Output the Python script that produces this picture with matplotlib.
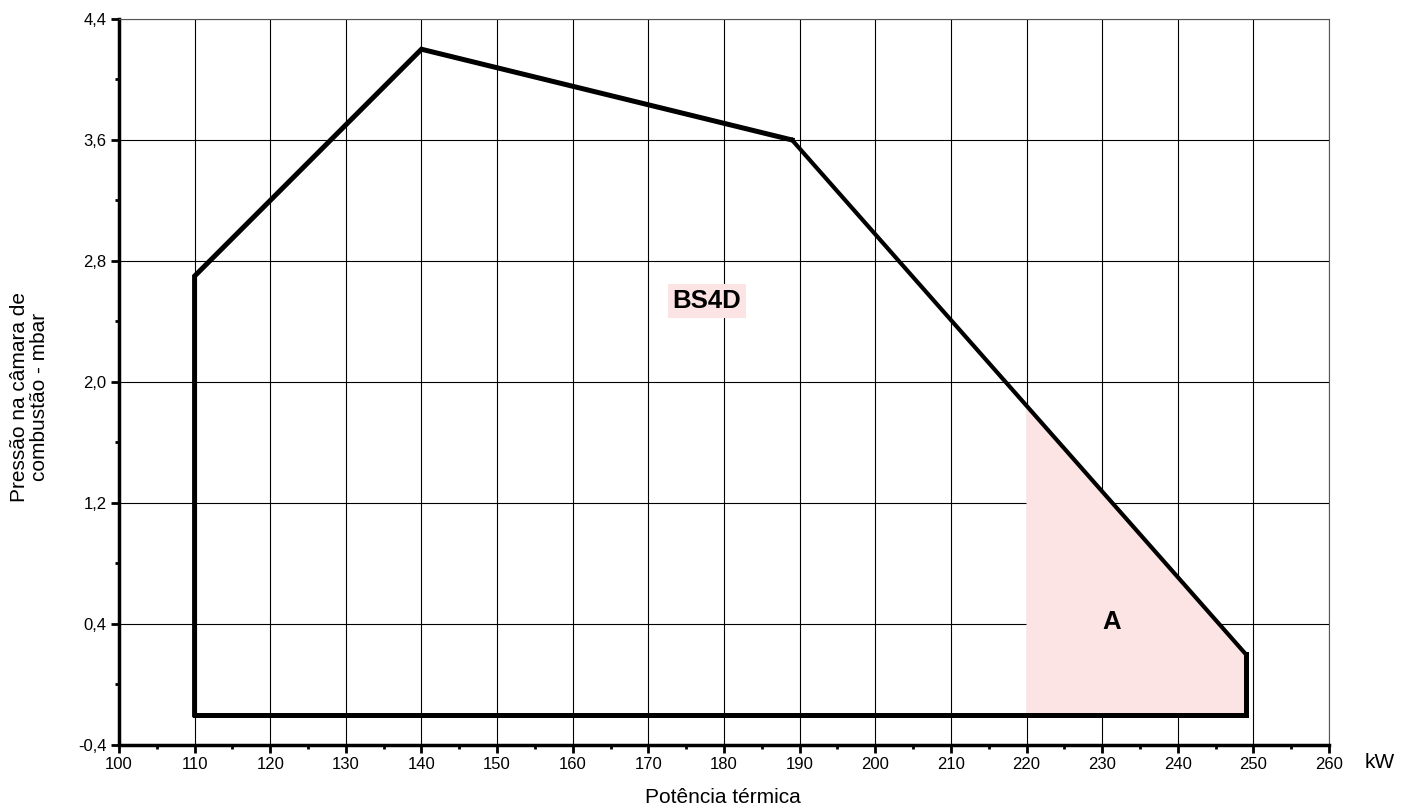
import matplotlib.pyplot as plt
from matplotlib.ticker import MultipleLocator, FixedLocator, FuncFormatter

# envelope of the burner working range
env_x = [110, 110, 140, 189, 249, 249, 110]
env_y = [-0.2, 2.7, 4.2, 3.6, 0.2, -0.2, -0.2]

# shaded zone A
zone_x = [220, 249, 249, 220]
zone_y = [1.843, 0.2, -0.2, -0.2]

y_major = [-0.4, 0.4, 1.2, 2.0, 2.8, 3.6, 4.4]
y_minor = [0.0, 0.8, 1.6, 2.4, 3.2, 4.0]

plt.rcParams['font.family'] = ['Liberation Sans', 'DejaVu Sans']

fig = plt.figure(figsize=(14.11, 8.11), dpi=100)
ax = fig.add_axes([0.0843, 0.0814, 0.8576, 0.8952])

ax.fill(zone_x, zone_y, color='#fde4e4', lw=0, zorder=1)
ax.plot(env_x[:4], env_y[:4], color='black', lw=3.6, solid_joinstyle='miter', zorder=3)
ax.plot(env_x[3:5], env_y[3:5], color='black', lw=3.0, zorder=3)
ax.plot(env_x[4:], env_y[4:], color='black', lw=3.6, solid_joinstyle='miter', zorder=3)

ax.set_xlim(100, 260)
ax.set_ylim(-0.4, 4.4)
ax.xaxis.set_major_locator(MultipleLocator(10))
ax.xaxis.set_minor_locator(MultipleLocator(5))
ax.yaxis.set_major_locator(FixedLocator(y_major))
ax.yaxis.set_minor_locator(FixedLocator(y_minor))
ax.yaxis.set_major_formatter(FuncFormatter(lambda v, p: f"{v:.1f}".replace('.', ',')))
ax.grid(True, which='major', color='black', lw=0.8, zorder=0)
ax.set_axisbelow(True)

for s in ['top', 'right']:
    ax.spines[s].set_linewidth(0.8)
    ax.spines[s].set_color('#555555')
for s in ['left', 'bottom']:
    ax.spines[s].set_linewidth(2.5)

ax.tick_params(axis='both', which='major', direction='out', length=6, width=2,
               labelsize=12, pad=3)
ax.tick_params(axis='both', which='minor', direction='out', length=3, width=2)

ax.text(177.75, 2.535, 'BS4D', fontsize=18.5, fontweight='bold', ha='center', va='center',
        bbox=dict(facecolor='#fde4e4', edgecolor='none', pad=3.5), zorder=4)
ax.text(231.2, 0.413, 'A', fontsize=18.5, fontweight='bold', ha='center', va='center', zorder=4)

fig.text(0.978, 0.060, 'kW', fontsize=15, ha='center', va='center')
fig.text(0.512, 0.017, 'Potência térmica', fontsize=15, ha='center', va='center')
fig.text(0.021, 0.51, 'Pressão na câmara de\ncombustão - mbar', fontsize=15, rotation=90,
         ha='center', va='center', linespacing=1.05)

fig.savefig('out.png', dpi=100)
